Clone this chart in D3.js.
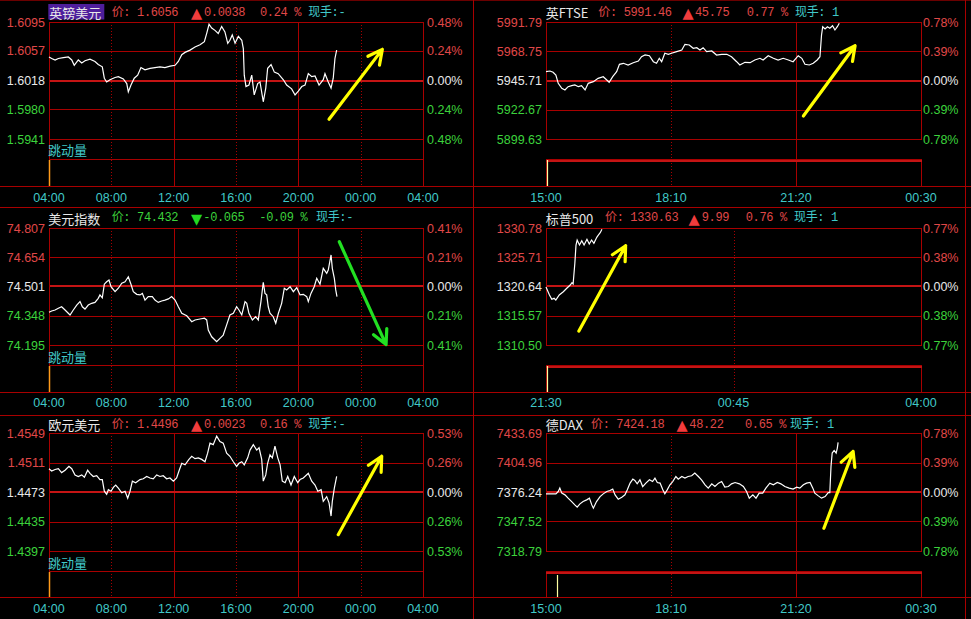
<!DOCTYPE html>
<html><head><meta charset="utf-8">
<script src="https://cdn.jsdelivr.net/npm/d3@7"></script>
<style>html,body{margin:0;padding:0;background:#000;overflow:hidden}svg{display:block}</style>
</head><body><svg id="c" width="971" height="619"></svg>
<script>
// ---------------- DATA ----------------
const dayTicks = [4, 8, 12, 16, 20, 24, 28];
const dayLabels = ["04:00","08:00","12:00","16:00","20:00","00:00","04:00"];
const euTicks = [15, 18 + 10/60, 21 + 20/60, 24.5];
const euLabels = ["15:00","18:10","21:20","00:30"];
const usTicks = [21.5, 24.75, 28];
const usLabels = ["21:30","00:45","04:00"];

const gbpTicks = ["1.6095","1.6057","1.6018","1.5980","1.5941"];
const gbpPct = ["0.48%","0.24%","0.00%","0.24%","0.48%"];
const ftseTicks = ["5991.79","5968.75","5945.71","5922.67","5899.63"];
const ftsePct = ["0.78%","0.39%","0.00%","0.39%","0.78%"];
const usdTicks = ["74.807","74.654","74.501","74.348","74.195"];
const usdPct = ["0.41%","0.21%","0.00%","0.21%","0.41%"];
const spxTicks = ["1330.78","1325.71","1320.64","1315.57","1310.50"];
const spxPct = ["0.77%","0.38%","0.00%","0.38%","0.77%"];
const eurTicks = ["1.4549","1.4511","1.4473","1.4435","1.4397"];
const eurPct = ["0.53%","0.26%","0.00%","0.26%","0.53%"];
const daxTicks = ["7433.69","7404.96","7376.24","7347.52","7318.79"];
const daxPct = ["0.78%","0.39%","0.00%","0.39%","0.78%"];

const gbpTitle = ["英镑美元","价: 1.6056","▲","0.0038","0.24 %","现手:-"];
const ftseTitle = ["英FTSE","价: 5991.46","▲","45.75","0.77 %","现手: 1"];
const usdTitle = ["美元指数","价: 74.432","▼","-0.065","-0.09 %","现手:-"];
const spxTitle = ["标普500","价: 1330.63","▲","9.99","0.76 %","现手: 1"];
const eurTitle = ["欧元美元","价: 1.4496","▲","0.0023","0.16 %","现手:-"];
const daxTitle = ["德DAX","价: 7424.18","▲","48.22","0.65 %","现手: 1"];

// [hour, price]
const gbpSeries = [[4.00,1.6049],[4.17,1.6047],[4.39,1.6045],[4.60,1.6047],[4.92,1.6048],[5.24,1.6049],[5.46,1.6045],[5.62,1.6038],[5.88,1.6045],[6.10,1.6041],[6.31,1.6044],[6.63,1.6046],[6.95,1.6043],[7.16,1.6039],[7.42,1.6036],[7.55,1.6021],[7.70,1.6016],[7.91,1.6019],[8.24,1.6022],[8.45,1.6023],[8.77,1.6020],[8.99,1.6014],[9.09,1.6003],[9.26,1.6012],[9.47,1.6021],[9.69,1.6025],[9.90,1.6035],[10.16,1.6032],[10.48,1.6034],[10.80,1.6035],[11.12,1.6036],[11.44,1.6035],[11.77,1.6037],[12.09,1.6038],[12.30,1.6043],[12.52,1.6052],[12.73,1.6055],[13.05,1.6058],[13.37,1.6062],[13.69,1.6065],[13.97,1.6069],[14.12,1.6080],[14.27,1.6092],[14.44,1.6087],[14.65,1.6084],[14.86,1.6080],[15.08,1.6089],[15.29,1.6082],[15.47,1.6067],[15.61,1.6071],[15.76,1.6078],[15.94,1.6067],[16.15,1.6076],[16.37,1.6071],[16.47,1.6060],[16.53,1.6025],[16.64,1.6010],[16.83,1.6012],[17.01,1.6025],[17.17,1.5999],[17.39,1.6014],[17.54,1.6016],[17.75,1.5990],[17.91,1.6008],[18.03,1.6034],[18.25,1.6039],[18.46,1.6029],[18.71,1.6027],[19.04,1.6019],[19.25,1.6012],[19.57,1.6007],[19.79,1.5999],[20.00,1.6004],[20.22,1.6010],[20.43,1.6012],[20.64,1.6027],[20.86,1.6023],[21.07,1.6024],[21.33,1.6012],[21.60,1.6019],[21.71,1.6027],[21.92,1.6016],[22.10,1.6008],[22.24,1.6021],[22.35,1.6047],[22.46,1.6058]];

const ftseSeries = [[15.00,5952.64],[15.10,5953.19],[15.18,5952.17],[15.25,5950.04],[15.31,5943.50],[15.40,5939.57],[15.48,5938.23],[15.56,5940.83],[15.65,5941.61],[15.73,5942.17],[15.82,5940.83],[15.90,5941.61],[15.99,5938.23],[16.07,5943.50],[16.20,5944.77],[16.32,5947.44],[16.45,5948.70],[16.54,5946.10],[16.60,5944.29],[16.69,5948.70],[16.79,5952.64],[16.86,5958.47],[16.96,5959.26],[17.08,5957.92],[17.21,5959.73],[17.34,5961.07],[17.42,5964.46],[17.51,5965.80],[17.62,5965.24],[17.72,5960.52],[17.80,5959.26],[17.87,5963.20],[17.93,5960.52],[18.01,5967.14],[18.10,5966.35],[18.18,5967.14],[18.31,5968.40],[18.44,5969.73],[18.52,5974.22],[18.63,5973.67],[18.73,5971.07],[18.82,5971.55],[18.90,5969.73],[18.98,5971.55],[19.07,5968.40],[19.20,5968.95],[19.32,5965.80],[19.45,5966.35],[19.58,5966.35],[19.70,5964.46],[19.83,5960.52],[19.91,5957.92],[20.04,5960.05],[20.17,5959.73],[20.29,5961.86],[20.42,5963.20],[20.50,5961.86],[20.63,5965.24],[20.76,5963.20],[20.88,5961.86],[21.01,5963.20],[21.14,5961.86],[21.26,5960.52],[21.39,5965.24],[21.48,5963.20],[21.56,5958.47],[21.67,5957.92],[21.77,5959.26],[21.87,5961.86],[21.94,5964.46],[21.98,5981.55],[22.01,5988.09],[22.07,5986.28],[22.13,5988.09],[22.19,5986.83],[22.26,5988.88],[22.32,5985.49],[22.38,5988.09],[22.43,5990.77]];

const usdSeries = [[4.00,74.366],[4.17,74.373],[4.39,74.378],[4.60,74.387],[4.81,74.395],[5.03,74.378],[5.35,74.352],[5.56,74.378],[5.78,74.404],[5.99,74.422],[6.14,74.395],[6.31,74.383],[6.52,74.404],[6.74,74.413],[6.95,74.418],[7.16,74.439],[7.27,74.457],[7.42,74.442],[7.55,74.513],[7.70,74.526],[7.85,74.535],[7.98,74.500],[8.24,74.474],[8.45,74.492],[8.67,74.518],[8.88,74.526],[9.09,74.552],[9.26,74.513],[9.41,74.474],[9.63,74.460],[9.84,74.457],[9.99,74.465],[10.16,74.430],[10.37,74.448],[10.63,74.448],[10.80,74.430],[11.01,74.418],[11.23,74.425],[11.44,74.430],[11.66,74.436],[11.87,74.448],[12.09,74.430],[12.30,74.395],[12.52,74.361],[12.84,74.348],[13.16,74.317],[13.37,74.326],[13.69,74.331],[13.97,74.335],[14.12,74.326],[14.22,74.273],[14.44,74.238],[14.65,74.221],[14.76,74.212],[14.97,74.230],[15.18,74.247],[15.40,74.300],[15.61,74.352],[15.83,74.361],[16.04,74.395],[16.19,74.378],[16.37,74.352],[16.58,74.422],[16.69,74.413],[16.83,74.361],[17.05,74.326],[17.26,74.343],[17.43,74.326],[17.60,74.422],[17.75,74.523],[17.86,74.465],[17.97,74.457],[18.07,74.395],[18.18,74.361],[18.39,74.343],[18.55,74.309],[18.72,74.361],[18.93,74.413],[19.10,74.492],[19.25,74.483],[19.47,74.500],[19.68,74.474],[19.90,74.495],[20.11,74.457],[20.32,74.460],[20.54,74.448],[20.64,74.422],[20.81,74.465],[21.02,74.500],[21.18,74.544],[21.39,74.513],[21.60,74.596],[21.82,74.570],[21.92,74.587],[22.10,74.666],[22.18,74.596],[22.31,74.544],[22.40,74.483],[22.48,74.448]];

const spxSeries = [[21.50,1320.55],[21.56,1319.17],[21.60,1318.42],[21.64,1318.59],[21.67,1318.30],[21.73,1319.17],[21.80,1319.74],[21.86,1320.33],[21.92,1320.90],[21.95,1321.30],[21.97,1321.07],[22.00,1324.66],[22.02,1327.83],[22.04,1328.70],[22.08,1327.83],[22.12,1328.58],[22.16,1327.83],[22.21,1328.82],[22.25,1328.01],[22.29,1328.70],[22.33,1328.13],[22.38,1329.17],[22.41,1329.57],[22.44,1329.97],[22.47,1330.55]];

const eurSeries = [[4.00,1.4503],[4.17,1.4500],[4.39,1.4502],[4.60,1.4503],[4.81,1.4498],[5.03,1.4501],[5.28,1.4506],[5.46,1.4503],[5.67,1.4495],[5.88,1.4493],[6.10,1.4495],[6.27,1.4492],[6.48,1.4501],[6.63,1.4497],[6.84,1.4493],[7.06,1.4494],[7.27,1.4489],[7.42,1.4489],[7.55,1.4474],[7.70,1.4470],[7.81,1.4476],[7.98,1.4474],[8.13,1.4479],[8.28,1.4482],[8.45,1.4478],[8.67,1.4472],[8.88,1.4474],[9.05,1.4465],[9.20,1.4474],[9.35,1.4487],[9.56,1.4485],[9.84,1.4489],[10.05,1.4490],[10.27,1.4493],[10.48,1.4491],[10.69,1.4490],[10.91,1.4495],[11.12,1.4493],[11.33,1.4494],[11.55,1.4490],[11.76,1.4491],[11.98,1.4487],[12.19,1.4491],[12.34,1.4500],[12.52,1.4510],[12.73,1.4508],[12.98,1.4515],[13.16,1.4519],[13.37,1.4516],[13.58,1.4517],[13.80,1.4515],[14.01,1.4512],[14.18,1.4523],[14.33,1.4536],[14.54,1.4534],[14.76,1.4545],[14.97,1.4538],[15.18,1.4536],[15.40,1.4523],[15.61,1.4519],[15.83,1.4512],[16.04,1.4506],[16.19,1.4510],[16.37,1.4512],[16.53,1.4508],[16.75,1.4517],[16.90,1.4527],[17.11,1.4534],[17.33,1.4527],[17.48,1.4530],[17.65,1.4515],[17.75,1.4487],[17.91,1.4495],[18.03,1.4510],[18.18,1.4521],[18.33,1.4517],[18.50,1.4532],[18.68,1.4517],[18.83,1.4508],[18.97,1.4487],[19.15,1.4485],[19.32,1.4493],[19.53,1.4482],[19.74,1.4493],[19.96,1.4485],[20.11,1.4489],[20.32,1.4491],[20.64,1.4497],[20.86,1.4487],[21.07,1.4482],[21.25,1.4474],[21.46,1.4476],[21.60,1.4461],[21.82,1.4467],[21.97,1.4459],[22.10,1.4442],[22.18,1.4461],[22.31,1.4478],[22.46,1.4493]];

const daxSeries = [[15.00,7374.43],[15.14,7374.43],[15.25,7374.43],[15.31,7376.68],[15.35,7380.00],[15.40,7375.12],[15.48,7373.46],[15.56,7370.24],[15.65,7366.92],[15.73,7363.69],[15.79,7361.45],[15.86,7364.67],[15.94,7366.92],[16.03,7368.58],[16.10,7370.24],[16.16,7363.69],[16.20,7360.47],[16.28,7366.92],[16.37,7371.80],[16.45,7374.43],[16.54,7376.68],[16.62,7377.66],[16.69,7379.02],[16.75,7373.46],[16.83,7369.26],[16.92,7371.21],[17.00,7373.46],[17.06,7378.34],[17.13,7384.88],[17.20,7388.78],[17.25,7387.42],[17.31,7384.20],[17.38,7388.10],[17.45,7381.56],[17.53,7384.88],[17.62,7388.10],[17.70,7386.44],[17.76,7389.76],[17.82,7385.46],[17.89,7384.88],[17.96,7378.34],[18.01,7374.43],[18.07,7378.34],[18.14,7383.22],[18.21,7386.44],[18.29,7391.32],[18.35,7388.78],[18.44,7391.32],[18.52,7389.76],[18.60,7391.32],[18.69,7392.01],[18.77,7394.64],[18.86,7391.32],[18.94,7388.10],[19.03,7383.22],[19.11,7380.00],[19.20,7384.20],[19.28,7381.56],[19.37,7384.88],[19.45,7386.44],[19.53,7380.97],[19.62,7381.56],[19.70,7384.20],[19.79,7385.46],[19.90,7384.20],[20.00,7381.56],[20.08,7376.68],[20.15,7370.24],[20.24,7373.46],[20.32,7370.24],[20.40,7375.12],[20.49,7375.12],[20.57,7380.00],[20.67,7384.88],[20.76,7383.22],[20.86,7385.46],[20.95,7384.20],[21.05,7381.56],[21.16,7380.00],[21.26,7379.02],[21.35,7380.97],[21.43,7380.00],[21.52,7383.22],[21.60,7384.88],[21.69,7385.46],[21.76,7380.00],[21.81,7375.12],[21.90,7372.48],[21.98,7370.24],[22.07,7371.80],[22.15,7375.70],[22.19,7375.70],[22.22,7401.08],[22.25,7414.17],[22.30,7416.70],[22.35,7414.17],[22.38,7419.05],[22.40,7424.51]];

// tick volume [hour, volume]
const gbpVol = [[4.00, 1]];
const ftseVol = [[15.02, 1]];
const usdVol = [[4.00, 1]];
const spxVol = [[21.51, 1]];
const eurVol = [[4.00, 1]];
const daxVol = [[15.27, 0.88]];

// annotation arrows [[hour, price] tail, [hour, price] tip]
const gbpArrow = [[21.97,1.5967],[25.39,1.6059]];
const ftseArrow = [[21.52,5917.75],[22.83,5973.12]];
const usdArrow = [[22.63,74.735],[25.63,74.197]];
const spxArrow = [[22.07,1312.93],[22.88,1327.71]];
const eurArrow = [[22.56,1.4418],[25.35,1.4519]];
const daxArrow = [[22.04,7340.95],[22.78,7415.73]];

// ---------------- LAYOUT ----------------
const svg = d3.select('#c');
const GRID = '#a80000', MID = '#c41414';
const C_RED = '#e04848', C_GREEN = '#3cd23c', C_WHITE = '#e8e8e8', C_CYAN = '#40c8c8';
const cols = [
  {x0:49, x1:423, labR:45, pctL:427, left:true},
  {x0:546, x1:921, labR:542, pctL:923, left:false}
];
const rows = [
  {yt:22, yb:139, vt:159, vb:186, ty:12.5, ly:198, jy:149.5},
  {yt:228, yb:345, vt:365, vb:392, ty:218, ly:403, jy:356},
  {yt:433, yb:551, vt:571, vb:597, ty:424.5, ly:609, jy:562}
];
const titleX = [
  [48.3, 111.7, 191, 204, 260, 308.3],
  [545.7, 598.3, 682.5, 695, 746.7, 795],
  [48.3, 111.7, 191, 203.3, 259.3, 316],
  [545.7, 605, 688.5, 701.7, 745.7, 794],
  [48.3, 111.7, 191, 204, 260, 308.3],
  [545.7, 591, 676.5, 689.3, 745, 790]
];

const panels = [
  {c:0, r:0, ticks:gbpTicks, pct:gbpPct, series:gbpSeries, vol:gbpVol, xt:dayTicks, xl:dayLabels, solid:[12,20], title:gbpTitle, up:true, hl:true, arrow:gbpArrow, ac:'#ffff00', tx:titleX[0]},
  {c:1, r:0, ticks:ftseTicks, pct:ftsePct, series:ftseSeries, vol:ftseVol, xt:euTicks, xl:euLabels, solid:[21+20/60], title:ftseTitle, up:true, arrow:ftseArrow, ac:'#ffff00', tx:titleX[1]},
  {c:0, r:1, ticks:usdTicks, pct:usdPct, series:usdSeries, vol:usdVol, xt:dayTicks, xl:dayLabels, solid:[12,20], title:usdTitle, up:false, arrow:usdArrow, ac:'#22e022', tx:titleX[2]},
  {c:1, r:1, ticks:spxTicks, pct:spxPct, series:spxSeries, vol:spxVol, xt:usTicks, xl:usLabels, solid:[], title:spxTitle, up:true, arrow:spxArrow, ac:'#ffff00', tx:titleX[3]},
  {c:0, r:2, ticks:eurTicks, pct:eurPct, series:eurSeries, vol:eurVol, xt:dayTicks, xl:dayLabels, solid:[12,20], title:eurTitle, up:true, arrow:eurArrow, ac:'#ffff00', tx:titleX[4]},
  {c:1, r:2, ticks:daxTicks, pct:daxPct, series:daxSeries, vol:daxVol, xt:euTicks, xl:euLabels, solid:[21+20/60], title:daxTitle, up:true, arrow:daxArrow, ac:'#ffff00', tx:titleX[5]}
];

function line(g, x1, y1, x2, y2, color, w, dash) {
  return g.append('line').attr('x1', x1).attr('y1', y1).attr('x2', x2).attr('y2', y2)
    .attr('stroke', color).attr('stroke-width', w || 1)
    .attr('stroke-dasharray', dash || null).attr('shape-rendering', 'crispEdges');
}

// global separators
const gg = svg.append('g');
line(gg, 0, 0.5, 971, 0.5, '#6a0000', 1);
[186.5, 207.5, 392.5, 415.5, 597.5].forEach(y => line(gg, 0, y, 971, y, GRID, 1));
line(gg, 473.5, 0, 473.5, 619, GRID, 1);
line(gg, 965.5, 0, 965.5, 619, GRID, 1);

const monoFont = '"Liberation Mono","DejaVu Sans Mono","Noto Sans CJK SC",monospace';
const sansFont = '"Liberation Sans",Arial,sans-serif';
const cjkFont = '"Noto Sans CJK SC","Liberation Sans",sans-serif';

panels.forEach(p => {
  const col = cols[p.c], row = rows[p.r];
  const g = svg.append('g');
  const tv = p.ticks.map(Number);
  const x = d3.scaleLinear().domain([p.xt[0], p.xt[p.xt.length - 1]]).range([col.x0, col.x1]);
  const y = d3.scaleLinear().domain([tv[4], tv[0]]).range([row.yb, row.yt]);
  const v = d3.scaleLinear().domain([0, 1]).range([row.vb, row.vt + 1]);
  const px = d => Math.round(x(d)) + 0.5;

  // vertical grid
  p.xt.slice(1, -1).forEach(t => {
    const solid = p.solid.some(s => Math.abs(s - t) < 1e-6);
    line(g, px(t), row.yt, px(t), row.vb, GRID, 1, solid ? null : '1,2');
  });
  // horizontal grid
  tv.forEach((t, i) => {
    if (i === 0 || i === 4) return;
    const yy = Math.round(y(t));
    if (i === 2) line(g, col.x0, yy, col.x1, yy, MID, 2);
    else line(g, col.x0, yy + 0.5, col.x1, yy + 0.5, GRID, 1);
  });
  // frames
  g.append('rect').attr('x', col.x0 + 0.5).attr('y', row.yt + 0.5).attr('width', col.x1 - col.x0).attr('height', row.yb - row.yt)
    .attr('fill', 'none').attr('stroke', GRID).attr('shape-rendering', 'crispEdges');
  if (col.left) {
    line(g, col.x0, row.vt + 0.5, col.x1 + 1, row.vt + 0.5, GRID, 1);
    line(g, col.x0 + 0.5, row.yt, col.x0 + 0.5, row.vb, GRID, 1);
    line(g, col.x1 + 0.5, row.yt, col.x1 + 0.5, row.vb, GRID, 1);
    g.append('text').attr('x', col.x0 - 1).attr('y', row.jy).attr('dominant-baseline', 'central')
      .attr('font-family', cjkFont).attr('font-size', 13).attr('fill', C_CYAN).text('跳动量');
  } else {
    g.append('rect').attr('x', col.x0 + 0.5).attr('y', row.vt + 0.5).attr('width', col.x1 - col.x0).attr('height', row.vb - row.vt)
      .attr('fill', 'none').attr('stroke', GRID).attr('shape-rendering', 'crispEdges');
    line(g, col.x0, row.vt + 1.5, col.x1 + 1, row.vt + 1.5, MID, 2);
  }

  // y labels
  const lc = [C_RED, C_RED, C_WHITE, C_GREEN, C_GREEN];
  p.ticks.forEach((t, i) => {
    g.append('text').attr('x', col.labR).attr('y', y(tv[i]) + 0.5).attr('text-anchor', 'end')
      .attr('dominant-baseline', 'central').attr('font-family', sansFont).attr('font-size', 12.5)
      .attr('fill', lc[i]).text(t);
    g.append('text').attr('x', col.pctL).attr('y', y(tv[i]) + 0.5)
      .attr('dominant-baseline', 'central').attr('font-family', sansFont).attr('font-size', 12.5)
      .attr('fill', lc[i]).text(p.pct[i]);
  });
  // x labels
  p.xt.forEach((t, i) => {
    g.append('text').attr('x', x(t)).attr('y', row.ly).attr('text-anchor', 'middle')
      .attr('dominant-baseline', 'central').attr('font-family', sansFont).attr('font-size', 12.5)
      .attr('fill', C_CYAN).text(p.xl[i]);
  });

  // volume bars
  p.vol.forEach(d => {
    g.append('line').attr('x1', px(d[0])).attr('x2', px(d[0])).attr('y1', v(d[1])).attr('y2', row.vb)
      .attr('stroke', col.left ? '#ff9a1a' : '#ffffa0').attr('stroke-width', col.left ? 1.5 : 1.2);
  });

  // price line
  g.append('path').datum(p.series)
    .attr('d', d3.line().x(d => x(d[0])).y(d => y(d[1])))
    .attr('fill', 'none').attr('stroke', '#ffffff').attr('stroke-width', 1.2).attr('stroke-linejoin', 'miter');

  // title
  const tc = p.up ? C_RED : C_GREEN;
  const ty = row.ty;
  if (p.hl) {
    g.append('rect').attr('x', p.tx[0]).attr('y', ty - 8.5).attr('width', 56).attr('height', 15.5).attr('fill', '#4e1e9c');
  }
  g.append('text').attr('x', p.tx[0] + (p.hl ? 1 : 0)).attr('y', ty).attr('dominant-baseline', 'central')
    .attr('font-family', cjkFont).attr('font-size', 13).attr('fill', C_WHITE).text(p.title[0]);
  const mono = (xx, txt, color) => g.append('text').attr('x', xx).attr('y', ty).attr('dominant-baseline', 'central')
    .attr('font-family', monoFont).attr('font-size', 12).attr('letter-spacing', -0.35).attr('fill', color).text(txt);
  mono(p.tx[1], p.title[1], tc);
  g.append('text').attr('x', p.tx[2]).attr('y', ty + 0.5).attr('dominant-baseline', 'central')
    .attr('font-family', '"DejaVu Sans",sans-serif').attr('font-size', 14.5).attr('fill', p.up ? '#f03c3c' : '#22d822').text(p.title[2]);
  mono(p.tx[3], p.title[3], tc);
  mono(p.tx[4], p.title[4], tc);
  mono(p.tx[5], p.title[5], C_CYAN);

  // arrow annotation
  const a0 = [x(p.arrow[0][0]), y(p.arrow[0][1])], a1 = [x(p.arrow[1][0]), y(p.arrow[1][1])];
  const ang = Math.atan2(a0[1] - a1[1], a0[0] - a1[0]);
  const L = 16, da = 27 * Math.PI / 180;
  const b1 = [a1[0] + L * Math.cos(ang + da), a1[1] + L * Math.sin(ang + da)];
  const b2 = [a1[0] + L * Math.cos(ang - da), a1[1] + L * Math.sin(ang - da)];
  g.append('path').attr('d', `M${a0}L${a1}M${b1}L${a1}L${b2}`)
    .attr('fill', 'none').attr('stroke', p.ac).attr('stroke-width', 3.2).attr('stroke-linecap', 'round').attr('stroke-linejoin', 'round');
});
</script>
</body></html>
